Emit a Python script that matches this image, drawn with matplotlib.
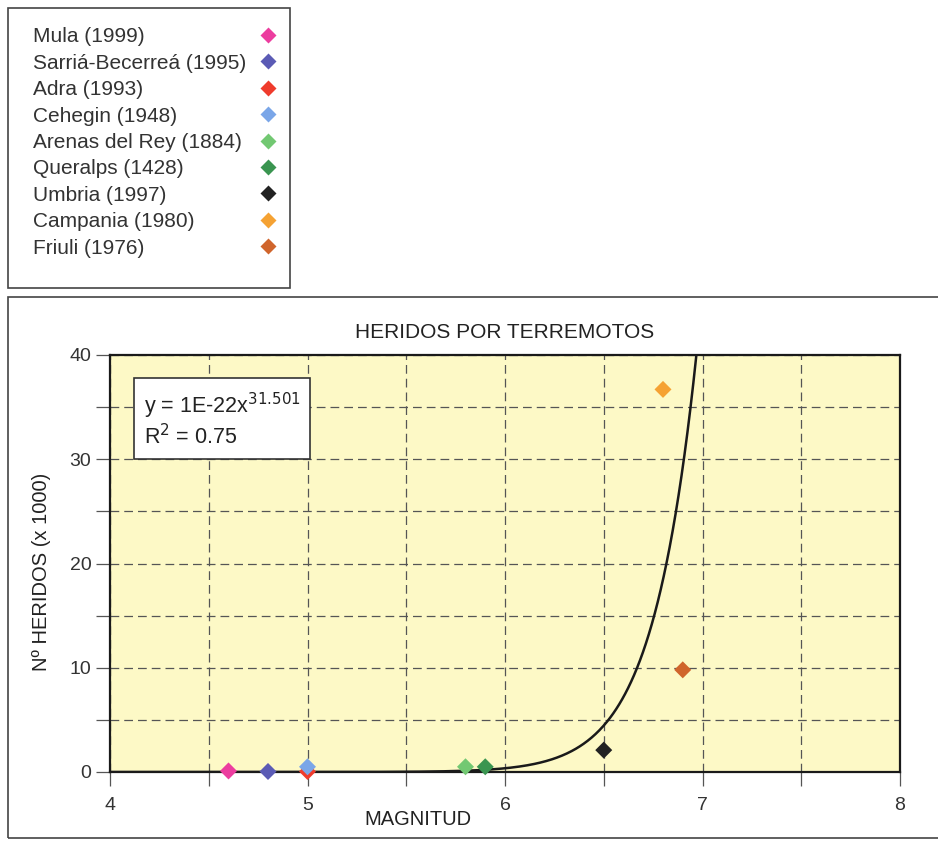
import matplotlib
matplotlib.use('Agg')
import matplotlib.pyplot as plt
from matplotlib.patches import Rectangle
from matplotlib.lines import Line2D
import numpy as np

plt.rcParams['font.family'] = ['Liberation Sans', 'DejaVu Sans']

# earthquakes: name, magnitude, injured (x1000)
names = ['Mula (1999)', 'Sarriá-Becerreá (1995)', 'Adra (1993)', 'Cehegin (1948)',
         'Arenas del Rey (1884)', 'Queralps (1428)', 'Umbria (1997)',
         'Campania (1980)', 'Friuli (1976)']
magnitude = [4.6, 4.8, 5.0, 5.0, 5.8, 5.9, 6.5, 6.8, 6.9]
heridos = [0.1, 0.05, 0.05, 0.5, 0.5, 0.5, 2.1, 36.7, 9.8]
colors = ['#ec3d9f', '#5b5bb5', '#ef3b2c', '#7aa6e8', '#72c872',
          '#3a9550', '#222222', '#f5a233', '#d0652c']

# power trendline y = a * x^b (coefficient as drawn on the chart)
trend_a = 1.1e-25
trend_b = 31.501

fig = plt.figure(figsize=(9.38, 8.42), dpi=100)
W, H = 938, 842

# outer frames
fig.patches.append(Rectangle((8 / W, 1 - 288 / H), 282 / W, 280 / H, transform=fig.transFigure,
                             fill=False, edgecolor='#444444', linewidth=1.2))
fig.patches.append(Rectangle((8 / W, 1 - 838 / H), 935 / W, 541 / H, transform=fig.transFigure,
                             fill=False, edgecolor='#444444', linewidth=1.2))

ax = fig.add_axes([110 / W, 1 - 772 / H, 790 / W, 417 / H])
ax.set_facecolor('#fdf9c6')

xs = np.linspace(4, 8, 800)
ax.plot(xs, trend_a * xs ** trend_b, color='#1a1a1a', linewidth=1.8, zorder=3)

for n, m, h, c in zip(names, magnitude, heridos, colors):
    ax.scatter([m], [h], marker='D', s=75, color=c, edgecolors='none',
               label=n, zorder=4, clip_on=False)

ax.set_xlim(4, 8)
ax.set_ylim(0, 40)
ax.set_xticks([4, 5, 6, 7, 8])
ax.set_xticks([4.5, 5.5, 6.5, 7.5], minor=True)
ax.set_yticks([0, 10, 20, 30, 40])
ax.set_yticks([5, 15, 25, 35], minor=True)
ax.grid(True, which='both', linestyle=(0, (7, 4)), color='#555555', linewidth=0.9)
ax.tick_params(which='both', direction='out', length=10, width=0.9, color='#555555',
               labelsize=14, labelcolor='#333333')
ax.tick_params(axis='x', pad=8)
for s in ax.spines.values():
    s.set_linewidth(1.6)
    s.set_color('#1a1a1a')

ax.set_title('HERIDOS POR TERREMOTOS', fontsize=15, color='#222222', pad=12)
ax.set_xlabel('MAGNITUD', fontsize=14.5, color='#222222')
ax.xaxis.set_label_coords(0.39, -0.09)
ax.set_ylabel('Nº HERIDOS (x 1000)', fontsize=14.5, color='#222222')
ax.yaxis.set_label_coords(-0.075, 0.48)

ax.text(0.043, 0.915, 'y = 1E-22x$^{31.501}$\nR$^2$ = 0.75', transform=ax.transAxes,
        fontsize=15.5, color='#222222', va='top', ha='left', linespacing=1.15,
        bbox=dict(boxstyle='square,pad=0.45', facecolor='white', edgecolor='#333333', linewidth=1.2))

# legend box: text on the left, marker on the right
for i, (n, c) in enumerate(zip(names, colors)):
    ypix = 35 + i * 26.4
    fig.text(33 / W, 1 - ypix / H, n, fontsize=15, color='#333333', va='center_baseline', ha='left')
    fig.add_artist(Line2D([268 / W], [1 - ypix / H], marker='D', markersize=8.5, color=c,
                          markeredgecolor='none', linestyle='none', transform=fig.transFigure))

fig.savefig('out.png', dpi=100)
